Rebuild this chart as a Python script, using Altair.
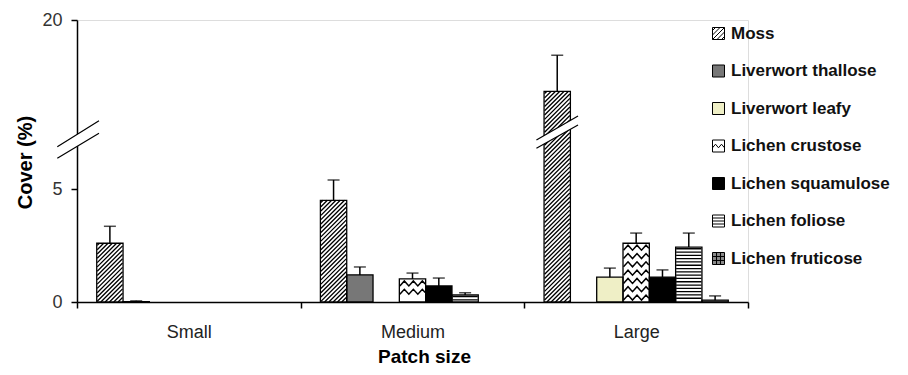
import altair as alt
import pandas as pd

# ---------------- data ----------------
sizes = ["Small", "Medium", "Large"]
groups = ["Moss", "Liverwort thallose", "Liverwort leafy", "Lichen crustose",
          "Lichen squamulose", "Lichen foliose", "Lichen fruticose"]

# mean cover (%) for Small, Medium, Large (None = not present)
moss_mean = [2.6, 4.5, 12.5]
thallose_mean = [0.02, 1.2, None]
leafy_mean = [None, None, 1.1]
crustose_mean = [None, 1.02, 2.6]
squamulose_mean = [None, 0.71, 1.1]
foliose_mean = [None, 0.31, 2.43]
fruticose_mean = [None, None, 0.08]

# standard error (upper error bar)
moss_se = [0.75, 0.9, 3.8]
thallose_se = [0.03, 0.35, None]
leafy_se = [None, None, 0.4]
crustose_se = [None, 0.26, 0.45]
squamulose_se = [None, 0.35, 0.32]
foliose_se = [None, 0.1, 0.62]
fruticose_se = [None, None, 0.19]

y_ticks = [0, 5, 20]
y_break = 7      # value where the broken axis switches scale
y_max = 20

means = [moss_mean, thallose_mean, leafy_mean, crustose_mean,
         squamulose_mean, foliose_mean, fruticose_mean]
ses = [moss_se, thallose_se, leafy_se, crustose_se,
       squamulose_se, foliose_se, fruticose_se]

# ---------------- layout / style ----------------
W, H = 671, 282
K1 = 22.6                      # px per unit below the break
YB = H - y_break * K1          # pixel of the break
BW = W / 3 / 8.5               # bar width (xOffset step)
FONT = "Liberation Sans"

fills = {"Moss": "white", "Liverwort thallose": "#777777",
         "Liverwort leafy": "#efefc6", "Lichen crustose": "white",
         "Lichen squamulose": "black", "Lichen foliose": "white",
         "Lichen fruticose": "#8a8a8a"}
pattern = {"Moss": "hatch", "Lichen crustose": "zigzag", "Lichen foliose": "hlines"}


def ypix(v):
    if v <= y_break:
        return H - v * K1
    return YB - (v - y_break) * YB / (y_max - y_break)


def hatch_path(w, h, step=4.3):
    parts, c = [], step / 2
    while c < w + h:
        y1, y2 = max(0.0, c - w), min(h, c)
        u1, u2 = c - y1, c - y2
        parts.append(f"M{u1 - w/2:.2f},{y1:.2f}L{u2 - w/2:.2f},{y2:.2f}")
        c += step
    return "".join(parts)


def zigzag_path(w, h, row=8.3, per=9.0, amp=5.0):
    parts, y0 = [], 2.0
    while y0 + amp <= h - 1.0:
        pts, k = [], 0
        while True:
            x = -w / 2 + k * per / 2
            yy = y0 + amp if k % 2 == 0 else y0
            if x >= w / 2:
                xp, yp = pts[-1]
                t = (w / 2 - xp) / (x - xp)
                pts.append((w / 2, yp + t * (yy - yp)))
                break
            pts.append((x, yy))
            k += 1
        parts.append("M" + "L".join(f"{a:.2f},{b:.2f}" for a, b in pts))
        y0 += row
    return "".join(parts)


def hlines_path(w, h, step=3.3):
    parts, y = [], step / 2
    while y < h - 0.5:
        parts.append(f"M{-w/2:.2f},{y:.2f}L{w/2:.2f},{y:.2f}")
        y += step
    return "".join(parts)


rows, prow = [], []
for g, mm, ee in zip(groups, means, ses):
    for s, m, e in zip(sizes, mm, ee):
        if m is None:
            continue
        rows.append({"size": s, "group": g, "value": m, "top": m + e, "fillc": fills[g]})
        kind = pattern.get(g)
        if kind:
            h = H - ypix(m)
            w = BW - 1
            p = {"hatch": hatch_path, "zigzag": zigzag_path, "hlines": hlines_path}[kind](w, h)
            if p:
                prow.append({"size": s, "group": g, "value": m, "path": p,
                             "sw": 1.5 if kind == "zigzag" else 1.3})
bars = pd.DataFrame(rows)
pats = pd.DataFrame(prow)

legend_shapes = [
    "M-1,-1H1V1H-1Z M-1,-0.5L-0.5,-1 M-1,0.25L0.25,-1 M-1,1L1,-1 M-0.25,1L1,-0.25 M0.5,1L1,0.5",
    "M-1,-1H1V1H-1Z",
    "M-1,-1H1V1H-1Z",
    "M-1,-1H1V1H-1Z M-1,0.3L-0.5,-0.3L0,0.3L0.5,-0.3L1,0.3",
    "M-1,-1H1V1H-1Z",
    "M-1,-1H1V1H-1Z M-1,-0.5H1 M-1,0H1 M-1,0.5H1",
    "M-1,-1H1V1H-1Z M-0.33,-1V1 M0.33,-1V1 M-1,-0.33H1 M-1,0.33H1",
]

# ---------------- encodings ----------------
yscale = alt.Scale(domain=[0, y_break, y_max], range=[H, YB, 0], nice=False, zero=False)
yaxis = alt.Axis(title="Cover (%)", values=y_ticks, grid=False, domainColor="black",
                 domainWidth=1.5, tickColor="black", tickWidth=1.5, tickSize=6,
                 labelFontSize=18, labelFont=FONT, labelColor="#333", labelPadding=9,
                 titleFont=FONT, titleFontSize=20, titleFontWeight="bold", titleColor="black",
                 titleX=-52, titleY=142, titleAlign="center", titleBaseline="middle")
xaxis = alt.Axis(title="Patch size", labelAngle=0, tickBand="extent", domainColor="black",
                 domainWidth=1.5, tickColor="black", tickWidth=1.5, tickSize=6,
                 labelFontSize=18, labelFont=FONT, labelColor="#222", labelPadding=15,
                 titleFont=FONT, titleFontSize=19, titleFontWeight="bold", titleColor="black",
                 titleX=347, titleY=60, titleAlign="center", titleBaseline="alphabetic")
X = alt.X("size:N", sort=sizes, scale=alt.Scale(domain=sizes, paddingInner=0, paddingOuter=0), axis=xaxis)
XO = alt.XOffset("group:N", sort=groups,
                 scale=alt.Scale(domain=groups, paddingInner=0, paddingOuter=0.75))


def Y(f):
    return alt.Y(f"{f}:Q", scale=yscale, axis=yaxis)


base = alt.Chart(bars)

bar_fill = base.mark_bar(strokeWidth=0).encode(
    x=X, xOffset=XO, y=Y("value"), fill=alt.Fill("fillc:N", scale=None))

bar_pat = alt.Chart(pats).mark_point(filled=False, stroke="black",
                                     size=4, opacity=1).encode(
    x=X, xOffset=XO, y=Y("value"), shape=alt.Shape("path:N", scale=None),
    strokeWidth=alt.StrokeWidth("sw:Q", scale=None))

bar_outline = base.mark_bar(fill="transparent", stroke="black", strokeWidth=1.3).encode(
    x=X, xOffset=XO, y=Y("value"))

err_rule = base.mark_rule(color="black", strokeWidth=1.5).encode(
    x=X, xOffset=XO, y=Y("value"), y2="top:Q")
err_cap = base.mark_tick(color="black", thickness=1.5, size=12, orient="horizontal").encode(
    x=X, xOffset=XO, y=Y("top"))

# legend (drawn from the fill / shape scales)
leg = alt.Legend(title=None, orient="none", legendX=633, legendY=5, symbolSize=144,
                 symbolStrokeWidth=1, symbolStrokeColor="black", symbolOpacity=1,
                 labelFontSize=17, labelFont=FONT, labelFontWeight="bold",
                 labelColor="#111", labelOffset=4,
                 rowPadding=19.5, padding=0, labelLimit=300)
legend_layer = alt.Chart(pd.DataFrame({"group": groups, "v": [-1] * len(groups)})).mark_point(
    filled=True, stroke="black", strokeWidth=1, opacity=1).encode(
    x=X, y=alt.Y("v:Q", scale=yscale, axis=yaxis),
    fill=alt.Fill("group:N", scale=alt.Scale(domain=groups, range=[
        "white", "#777777", "#efefc6", "white", "black", "white", "#8a8a8a"]), legend=leg),
    shape=alt.Shape("group:N", scale=alt.Scale(domain=groups, range=legend_shapes), legend=leg),
).transform_filter("datum.v > 0")

# broken-axis marks on the tall bar
brk_df = pd.DataFrame({"size": ["Large"], "group": ["Moss"], "b": [8.21]})
band_white = "M-20.8,7.7L20.8,-16.3L20.8,-7.3L-20.8,16Z"
band_lines = "M-20.8,7.7L20.8,-16.3M-20.8,16L20.8,-7.3"
bar_brk_w = alt.Chart(brk_df).mark_point(filled=True, fill="white", strokeWidth=0, size=4,
                                         shape=band_white, opacity=1).encode(
    x=X, xOffset=XO, y=Y("b"))
bar_brk_l = alt.Chart(brk_df).mark_point(filled=False, stroke="black", strokeWidth=1.2, size=4,
                                         shape=band_lines, opacity=1).encode(
    x=X, xOffset=XO, y=Y("b"))

# broken-axis marks on the y axis
ax_df = pd.DataFrame({"b": [7.43]})
ax_white = "M-19.7,6.95L22,-19.05L22,-6.45L-19.7,18.55Z"
ax_lines = "M-19.7,6.95L22,-19.05M-19.7,18.55L22,-6.45"
ax_brk_w = alt.Chart(ax_df).mark_point(filled=True, fill="white", strokeWidth=0, size=4,
                                       shape=ax_white, opacity=1).encode(
    x=alt.value(0), y=Y("b"))
ax_brk_l = alt.Chart(ax_df).mark_point(filled=False, stroke="black", strokeWidth=1.2, size=4,
                                       shape=ax_lines, opacity=1).encode(
    x=alt.value(0), y=Y("b"))

chart = alt.layer(
    bar_fill, bar_pat, bar_outline, err_rule, err_cap, legend_layer,
    bar_brk_w, bar_brk_l, ax_brk_w, ax_brk_l
).properties(
    width=W, height=H,
    autosize=alt.AutoSizeParams(type="none"),
    padding={"left": 69, "top": 12, "right": 152, "bottom": 65},
).configure_view(stroke=None).configure(background="white")

chart.save("out.html", embed_options={"renderer": "svg", "actions": False})
